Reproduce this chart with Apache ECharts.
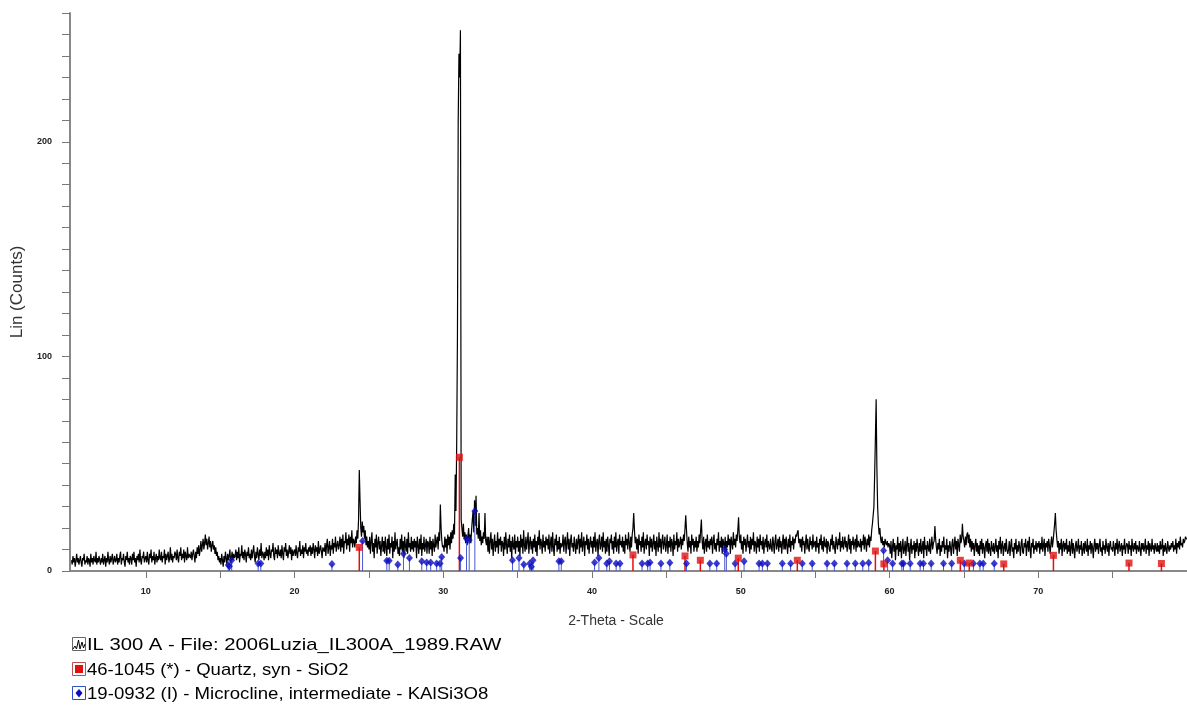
<!DOCTYPE html>
<html>
<head>
<meta charset="utf-8">
<script src="https://cdn.jsdelivr.net/npm/echarts@6/dist/echarts.min.js"></script>
<style>
  html, body { margin: 0; padding: 0; background: #fff; }
  #chart { width: 1187px; height: 706px; }
</style>
</head>
<body>
<div id="chart"></div>
<script>
// Measured scan: one row per whole degree of 2-theta (from 5 deg), 20 readings per row at 0.05 deg steps
const scanFirstDegree = 5;
const scanStep = 0.05;
const scanRows = [
  [5,3,7,4,6,2,5,8,4,6,3,5,7,4,2,6,5,8,3,5],
  [4,7,3,6,5,2,8,4,6,3,7,5,4,9,3,6,4,7,5,3],
  [6,4,8,3,5,7,2,6,4,9,5,3,7,4,6,8,3,5,7,4],
  [5,8,3,6,4,7,9,3,6,5,8,4,2,7,5,9,4,6,3,7],
  [6,3,8,5,9,4,6,2,7,5,8,4,10,5,3,7,6,9,4,6],
  [7,4,9,5,3,8,6,10,4,7,5,9,3,6,8,4,7,5,10,6],
  [5,9,4,7,6,10,3,8,5,7,9,4,6,11,5,8,4,7,6,9],
  [8,5,10,6,4,9,7,11,5,8,6,10,4,9,7,5,11,6,8,7],
  [6,9,5,8,10,7,4,9,6,11,8,12,7,10,14,9,12,15,10,13],
  [17,12,15,10,13,16,11,14,9,12,14,10,12,8,11,7,9,5,7,4],
  [6,3,8,5,2,7,4,9,6,3,8,5,7,10,4,6,9,5,8,6],
  [7,10,5,9,6,11,4,8,7,12,6,9,5,10,8,4,9,7,11,6],
  [8,5,10,6,9,12,7,4,9,6,11,8,5,10,7,13,6,9,8,5],
  [9,6,11,7,10,5,12,8,6,10,9,13,7,5,11,8,10,6,12,8],
  [7,10,6,12,8,5,11,9,13,7,10,6,9,12,8,11,5,10,7,9],
  [10,7,12,8,6,11,9,14,7,10,8,12,6,11,9,13,8,10,7,11],
  [9,12,7,11,8,13,10,6,12,9,11,7,14,8,10,12,9,6,11,10],
  [9,13,7,12,15,8,11,14,7,12,10,15,8,13,11,16,9,12,14,10],
  [12,16,9,15,11,17,8,14,13,18,10,15,12,17,9,16,13,19,11,15],
  [14,11,16,13,19,15,24,47,33,20,16,23,18,21,15,19,12,16,11,14],
  [10,16,8,14,18,9,13,6,15,11,17,8,13,16,10,14,7,12,16,9],
  [14,8,16,11,7,15,10,17,8,13,11,16,6,14,9,18,10,13,15,8],
  [11,7,15,10,17,9,14,6,16,12,9,15,8,18,11,13,9,16,10,14],
  [9,15,11,14,6,16,12,8,15,10,17,7,13,10,16,9,12,15,8,14],
  [13,8,16,10,14,7,15,12,9,17,11,14,16,10,18,14,31,20,14,11],
  [12,9,16,11,15,8,17,12,16,10,18,13,19,15,22,17,45,28,60,110],
  [209,241,230,252,24,20,16,22,15,18,13,17,12,16,20,14,17,13,19,24],
  [28,18,33,21,35,17,20,15,27,14,19,12,16,13,18,15,27,14,12,16],
  [9,16,8,14,18,10,15,7,13,17,9,14,11,18,8,15,12,16,9,14],
  [13,7,16,10,18,12,8,15,11,17,9,14,6,16,12,10,17,8,14,11],
  [16,9,14,7,17,11,15,8,19,12,9,16,10,14,18,8,13,16,10,14],
  [8,15,11,17,9,14,7,16,12,19,10,15,13,8,17,11,14,9,16,12],
  [15,10,17,8,13,16,9,18,11,7,15,12,17,9,14,10,16,8,13,11],
  [12,17,9,14,16,8,13,18,10,15,7,14,17,11,13,9,16,12,8,15],
  [10,14,17,8,15,11,18,9,13,16,7,14,12,17,10,15,8,13,16,11],
  [14,8,16,11,18,9,13,15,7,14,17,10,12,16,9,18,11,14,8,15],
  [9,16,12,7,15,13,17,10,14,8,16,11,18,9,13,15,8,17,12,14],
  [11,16,9,14,8,17,12,15,10,18,13,9,16,11,17,20,27,19,13,16],
  [10,15,8,17,12,14,9,16,11,18,8,13,15,10,17,12,14,7,16,11],
  [15,9,13,17,10,14,7,16,12,9,18,11,15,8,14,17,10,13,16,9],
  [12,17,8,14,11,16,9,15,13,7,17,10,14,12,18,9,15,11,13,16],
  [10,15,12,17,14,20,26,19,13,9,16,11,14,8,17,12,15,9,14,11],
  [16,9,14,11,17,13,19,24,14,10,16,8,13,15,9,17,11,14,10,15],
  [12,16,8,14,17,10,13,9,15,12,18,9,14,11,16,8,15,13,10,16],
  [9,14,11,17,12,15,8,16,13,10,18,12,15,11,17,14,19,25,16,13],
  [17,10,14,8,16,12,15,9,13,17,11,14,8,16,10,15,12,18,9,14],
  [13,8,16,11,15,9,17,12,14,10,16,8,13,15,11,17,9,14,12,10],
  [15,11,9,16,13,8,14,17,10,12,15,9,16,11,14,8,13,17,10,15],
  [10,16,12,8,15,11,17,9,14,12,16,10,15,13,17,16,18,19,13,15],
  [11,15,9,16,12,14,8,13,17,10,15,11,9,16,12,14,10,17,11,13],
  [14,9,16,11,13,8,15,12,17,10,14,9,16,12,11,15,8,14,13,10],
  [9,15,12,17,10,14,11,8,16,13,10,15,12,18,9,14,11,16,10,13],
  [16,11,14,9,13,17,10,15,8,14,12,16,10,13,15,9,17,11,14,12],
  [11,15,9,14,12,17,10,16,13,9,15,12,17,11,16,14,19,22,26,30],
  [45,62,80,48,30,22,17,20,15,13,16,12,14,11,15,13,12,14,11,13],
  [12,8,14,6,11,15,9,13,5,12,10,16,7,13,9,14,6,11,15,8],
  [10,14,7,12,16,9,13,5,11,15,8,12,10,14,6,13,9,15,11,7],
  [13,9,15,8,11,14,6,16,10,12,7,14,11,9,15,8,12,16,10,13],
  [14,21,15,11,8,13,10,15,7,12,9,14,11,16,8,12,10,15,6,12],
  [9,14,11,7,13,15,8,12,16,10,14,7,15,12,9,17,13,15,22,16],
  [14,11,16,12,17,18,13,17,11,15,9,14,10,13,7,12,15,9,13,8],
  [12,7,14,10,15,8,13,11,6,12,14,9,15,8,13,10,7,14,11,9],
  [13,8,11,15,9,12,6,14,10,16,8,12,14,7,11,13,9,15,10,8],
  [10,14,7,12,15,9,11,6,13,10,15,8,12,9,14,11,7,13,15,9],
  [8,13,11,15,7,12,14,9,16,10,6,13,11,15,8,12,10,14,9,13],
  [11,14,8,13,10,16,9,12,15,7,13,11,14,9,15,12,8,13,16,11],
  [14,18,22,27,19,15,11,14,8,13,10,15,7,12,14,9,13,10,15,8],
  [12,9,14,7,11,15,8,13,10,6,12,14,9,11,15,8,12,10,14,7],
  [10,13,8,14,11,9,15,7,12,10,14,8,13,11,6,12,15,9,13,10],
  [13,8,12,15,9,11,7,14,10,12,8,15,11,9,13,7,12,14,10,11],
  [9,14,11,7,13,10,15,8,12,14,9,11,13,7,12,10,15,8,11,13],
  [12,8,14,10,12,7,15,11,9,13,10,14,8,12,11,9,14,10,7,13],
  [10,13,9,11,15,8,12,10,14,7,13,11,9,15,10,12,8,13,11,9],
  [13,9,12,8,14,10,11,15,7,12,9,13,10,8,14,11,9,12,10,13],
  [11,14,9,12,10,15,8,13,11,14,10,16,12,13,11,15,13,14,16,15],
  [15]
];

// Reference pattern 46-1045 Quartz: stick positions (deg) and heights (counts)
const quartzPos = [24.35, 31.08, 42.75, 46.25, 47.28, 49.83, 53.80, 59.05, 59.62, 64.76, 65.36, 67.68, 71.02, 76.10, 78.28];
const quartzInt = [11, 53, 7.5, 7, 5, 6, 5, 9.3, 3.3, 5, 3.7, 3.3, 7.3, 3.7, 3.5];

// Reference pattern 19-0932 Microcline: stick positions (deg) and heights (counts)
const microPos = [15.54, 15.62, 15.77, 17.55, 17.73, 22.51, 24.57, 26.20, 26.36, 26.94, 27.32, 27.72, 28.55, 28.88, 29.15, 29.55, 29.78, 29.89,
  31.16, 31.56, 31.74, 32.12, 34.65, 35.09, 35.41, 35.81, 35.92, 36.03, 37.77, 37.93, 40.17, 40.46, 40.99, 41.17, 41.62, 41.88,
  43.36, 43.74, 43.90, 44.63, 45.23, 46.35, 47.92, 48.38, 48.92, 49.03, 49.62, 50.22, 51.23, 51.45, 51.79, 52.79, 53.35, 54.13,
  54.80, 55.80, 56.29, 57.14, 57.70, 58.20, 58.60, 59.60, 59.87, 60.21, 60.83, 60.94, 61.39, 62.06, 62.28, 62.80, 63.63, 64.18,
  65.03, 65.64, 66.08, 66.30, 67.04];
const microInt = [2.8, 2.2, 5, 3.5, 3.5, 3.3, 14, 4.8, 4.8, 3, 8, 6, 4.5, 4, 4, 3.5, 3.5, 6.5,
  6, 15, 14.5, 28, 5, 6, 3, 3.5, 2, 5, 4.5, 4.5, 4, 6, 3.5, 4.5, 3.5, 3.5,
  3.5, 3.5, 4, 3.5, 3.8, 3.5, 3.5, 3.5, 10, 8, 3.5, 4.5, 3.5, 3.5, 3.5, 3.5, 3.5, 3.5,
  3.5, 3.5, 3.5, 3.5, 3.5, 3.5, 3.8, 9.5, 5, 3.5, 3.5, 3.5, 3.5, 3.5, 3.5, 3.5, 3.5, 3.5,
  3.5, 3.5, 3.5, 3.5, 3.5];

// Axis tick marks and labels
const xTickValues = [10, 15, 20, 25, 30, 35, 40, 45, 50, 55, 60, 65, 70, 75];
const xLabelValues = [10, 20, 30, 40, 50, 60, 70];
const yLabelValues = [0, 100, 200];

const seriesNames = [
  'IL 300 A - File: 2006Luzia_IL300A_1989.RAW',
  '46-1045 (*) - Quartz, syn - SiO2',
  '19-0932 (I) - Microcline, intermediate - KAlSi3O8'
];
const xAxisTitle = '2-Theta - Scale';
const yAxisTitle = 'Lin (Counts)';

const scanData = [];
scanRows.forEach((row, d) => {
  row.forEach((c, j) => {
    scanData.push([+(scanFirstDegree + d + j * scanStep).toFixed(2), c]);
  });
});
const quartzData = quartzPos.map((p, i) => [p, quartzInt[i]]);
const microData = microPos.map((p, i) => [p, microInt[i]]);

const RED = '#e01010';
const BLUE = '#0c0cc0';

function stickRenderer(color, width) {
  return function (params, api) {
    const x = api.value(0);
    const p0 = api.coord([x, 0]);
    const p1 = api.coord([x, api.value(1)]);
    return {
      type: 'line',
      shape: { x1: p0[0], y1: p0[1], x2: p1[0], y2: p1[1] },
      style: { stroke: color, lineWidth: width }
    };
  };
}

const chart = echarts.init(document.getElementById('chart'), null, { renderer: 'canvas' });

// Legend block under the plot
const legendRows = [645, 670, 694];
const legendStretch = [1.19, 1.09, 1.095];
const legendGraphics = [];
legendGraphics.push({ type: 'rect', shape: { x: 72.5, y: legendRows[0] - 7.5, width: 13, height: 13 }, style: { fill: '#fff', stroke: '#666', lineWidth: 1 } });
legendGraphics.push({ type: 'polyline', shape: { points: [[73, legendRows[0] + 4], [75, legendRows[0] + 1], [76.5, legendRows[0] + 4], [78.5, legendRows[0] - 5], [80, legendRows[0] + 4], [82, legendRows[0] - 3], [83.5, legendRows[0] + 3], [85, legendRows[0] - 1]] }, style: { stroke: '#000', lineWidth: 1, fill: null } });
legendGraphics.push({ type: 'rect', shape: { x: 72.5, y: legendRows[1] - 7.5, width: 13, height: 13 }, style: { fill: '#fff', stroke: '#c05050', lineWidth: 1 } });
legendGraphics.push({ type: 'rect', shape: { x: 75, y: legendRows[1] - 5, width: 8, height: 8 }, style: { fill: RED } });
legendGraphics.push({ type: 'rect', shape: { x: 72.5, y: legendRows[2] - 7.5, width: 13, height: 13 }, style: { fill: '#fff', stroke: '#3050c0', lineWidth: 1 } });
legendGraphics.push({ type: 'polygon', shape: { points: [[79, legendRows[2] - 5], [82.5, legendRows[2] - 1], [79, legendRows[2] + 3.5], [75.5, legendRows[2] - 1]] }, style: { fill: BLUE } });
seriesNames.forEach((name, i) => {
  legendGraphics.push({
    type: 'text', x: 87, y: legendRows[i], scaleX: legendStretch[i],
    style: { text: name, font: '17px "Liberation Sans", Arial, sans-serif', fill: '#000', verticalAlign: 'middle' }
  });
});

chart.setOption({
  animation: false,
  backgroundColor: '#fff',
  grid: { left: 70, right: -4, top: 13, bottom: 135, containLabel: false },
  xAxis: {
    type: 'value', min: 4.9, max: 80,
    name: xAxisTitle, nameLocation: 'middle', nameGap: 43,
    nameTextStyle: { fontFamily: 'Liberation Sans, Arial', fontSize: 14, color: '#333', padding: [0, 25, 0, 0] },
    axisLine: { show: true, lineStyle: { color: '#888', width: 2 } },
    axisTick: { show: true, customValues: xTickValues, length: 7, lineStyle: { color: '#777', width: 1 } },
    axisLabel: { customValues: xLabelValues, margin: 16, fontSize: 9, fontWeight: 'bold', color: '#222', fontFamily: 'Liberation Sans, Arial' },
    splitLine: { show: false }
  },
  yAxis: {
    type: 'value', min: 0, max: 260, interval: 10,
    name: yAxisTitle, nameLocation: 'middle', nameGap: 42, nameRotate: 90,
    nameTextStyle: { fontFamily: 'Liberation Sans, Arial', fontSize: 17, color: '#333' },
    axisLine: { show: true, lineStyle: { color: '#888', width: 2 } },
    axisTick: { show: true, length: 8, lineStyle: { color: '#777', width: 1 } },
    axisLabel: { customValues: yLabelValues, margin: 18, fontSize: 9, fontWeight: 'bold', color: '#222', fontFamily: 'Liberation Sans, Arial' },
    splitLine: { show: false }
  },
  series: [
    {
      name: seriesNames[0], type: 'line', data: scanData, showSymbol: false, symbol: 'none',
      sampling: null, lineStyle: { color: '#000', width: 1.2 }, z: 2, silent: true
    },
    {
      name: seriesNames[1] + ' sticks', type: 'custom', data: quartzData,
      renderItem: stickRenderer(RED, 1.5), z: 3, silent: true
    },
    {
      name: seriesNames[2] + ' sticks', type: 'custom', data: microData,
      renderItem: stickRenderer('#4a5ad0', 1), z: 3, silent: true
    },
    {
      name: seriesNames[2], type: 'scatter', data: microData, symbol: 'diamond', symbolSize: [7, 8],
      itemStyle: { color: BLUE }, z: 4, silent: true
    },
    {
      name: seriesNames[1], type: 'scatter', data: quartzData, symbol: 'rect', symbolSize: 7,
      itemStyle: { color: RED }, z: 5, silent: true
    }
  ],
  graphic: legendGraphics
});
</script>
</body>
</html>
